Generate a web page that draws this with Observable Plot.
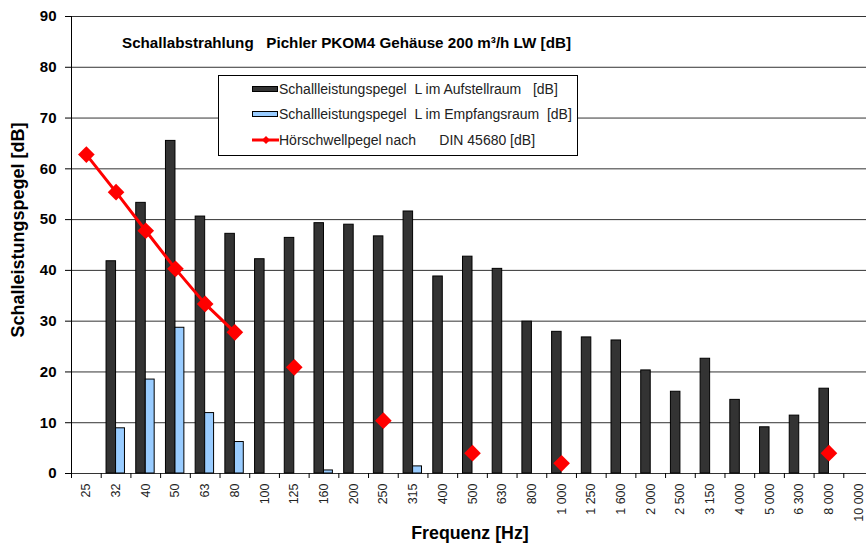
<!DOCTYPE html>
<html>
<head>
<meta charset="utf-8">
<script src="https://cdn.jsdelivr.net/npm/d3@7"></script>
<script src="https://cdn.jsdelivr.net/npm/@observablehq/plot@0.6"></script>
<style>
  html, body { margin: 0; padding: 0; background: #fff; overflow: hidden; }
  #wrap { position: relative; width: 866px; height: 544px; overflow: hidden; font-family: Arial, "Liberation Sans", sans-serif; }
  #chart { position: absolute; left: 0; top: 0; width: 880px; }
  #chart svg { max-width: none !important; }
  .title { position: absolute; left: 122px; top: 34px; font-size: 15.2px; font-weight: bold; white-space: pre; color: #000; }
  .legend { position: absolute; left: 218px; top: 75px; width: 360px; height: 81px; box-sizing: border-box; border: 1px solid #000; background: #fff; }
  .lrow { position: absolute; left: 33px; height: 16px; font-size: 14px; white-space: pre; color: #222; line-height: 16px; }
  .sw { position: absolute; left: 0; }
  .ltext { position: absolute; left: 27px; top: 0; }
  .ytitle { position: absolute; left: 18px; top: 230px; transform: translate(-50%, -50%) rotate(-90deg); font-size: 18px; font-weight: bold; white-space: pre; }
  .xtitle { position: absolute; left: 470px; top: 523px; transform: translateX(-50%); font-size: 17.8px; font-weight: bold; white-space: pre; line-height: 20px; }
</style>
</head>
<body>
<div id="wrap">
  <div id="chart"></div>
  <div class="title">Schallabstrahlung   Pichler PKOM4 Gehäuse 200 m³/h LW [dB]</div>
  <div class="legend" id="legend"></div>
  <div class="ytitle">Schalleistungspegel [dB]</div>
  <div class="xtitle">Frequenz [Hz]</div>
</div>
<script>
const categories = ["25","32","40","50","63","80","100","125","160","200","250","315","400","500","630","800","1 000","1 250","1 600","2 000","2 500","3 150","4 000","5 000","6 300","8 000","10 000"];
const aufstellraum = [null,41.8,53.3,65.5,50.6,47.2,42.2,46.4,49.3,49.0,46.7,51.6,38.8,42.7,40.3,29.9,27.9,26.8,26.2,20.3,16.1,22.6,14.5,9.1,11.4,16.7,null];
const empfangsraum = [null,8.9,18.5,28.7,11.9,6.2,null,null,0.6,null,null,1.4,null,null,null,null,null,null,null,null,null,null,null,null,null,null,null];
const hoerschwelle = [62.8,55.4,47.8,40.3,33.4,27.8,null,20.9,null,null,10.4,null,null,4.0,null,null,2.0,null,null,null,null,null,null,null,null,4.0,null];
const yTicks = [0,10,20,30,40,50,60,70,80,90];
const seriesNames = [
  "Schallleistungspegel  L im Aufstellraum   [dB]",
  "Schallleistungspegel  L im Empfangsraum  [dB]",
  "Hörschwellpegel nach      DIN 45680 [dB]"
];

const darkData = categories.map((c, i) => ({cat: c, v: aufstellraum[i]})).filter(d => d.v != null);
const blueData = categories.map((c, i) => ({cat: c, v: empfangsraum[i]})).filter(d => d.v != null);
const redData = categories.map((c, i) => ({cat: c, v: hoerschwelle[i]}));

const W = 873, ML = 71, MR = 0;
const bw = (W - ML - MR) / categories.length;

const chart = Plot.plot({
  width: W,
  height: 544,
  marginLeft: ML,
  marginRight: MR,
  marginTop: 16,
  marginBottom: 71,
  style: {fontFamily: "Arial, 'Liberation Sans', sans-serif", background: "#fff", color: "#000", maxWidth: "none"},
  x: {type: "band", domain: categories, padding: 0, round: false, label: null},
  y: {domain: [0, 90], label: null},
  marks: [
    Plot.ruleY(yTicks, {stroke: "#333", strokeWidth: 1}),
    Plot.barY(darkData, {x: "cat", y: "v", fill: "#333333", stroke: "#000", strokeWidth: 1, insetLeft: bw * 0.18, insetRight: bw * 0.5}),
    Plot.barY(blueData, {x: "cat", y: "v", fill: "#99ccff", stroke: "#000", strokeWidth: 1, insetLeft: bw * 0.5, insetRight: bw * 0.2}),
    Plot.line(redData, {x: "cat", y: "v", stroke: "#ff0000", strokeWidth: 3, defined: d => d.v != null}),
    Plot.dot(redData.filter(d => d.v != null), {x: "cat", y: "v", symbol: "diamond2", r: 7.5, fill: "#ff0000", stroke: "none"}),
    Plot.axisY({ticks: yTicks, tickSize: 6, tickPadding: 9, fontSize: 15, fontWeight: "bold", letterSpacing: 1, label: null}),
    Plot.axisX({ticks: categories, tickSize: 0, tickPadding: 10, tickRotate: -90, fontSize: 12.5, fill: "#222", label: null}),
    Plot.axisX({ticks: categories, tickSize: 5, tickFormat: () => "", dx: -bw / 2, label: null}),
    Plot.frame({anchor: "left", stroke: "#000"})
  ]
});
document.getElementById("chart").appendChild(chart);

// legend
const legend = document.getElementById("legend");
const rowsTop = [5, 30, 56];
const swatchStyles = [
  {bg: "#333333", border: "1px solid #000", h: 6},
  {bg: "#99ccff", border: "1px solid #000", h: 6},
  {bg: null}
];
seriesNames.forEach((name, i) => {
  const row = document.createElement("div");
  row.className = "lrow";
  row.style.top = rowsTop[i] + "px";
  row.style.width = "320px";
  if (swatchStyles[i].bg) {
    const sw = document.createElement("div");
    sw.className = "sw";
    sw.style.top = "5px";
    sw.style.width = "26px";
    sw.style.height = swatchStyles[i].h + "px";
    sw.style.boxSizing = "border-box";
    sw.style.background = swatchStyles[i].bg;
    sw.style.border = swatchStyles[i].border;
    row.appendChild(sw);
  } else {
    const svg = d3.create("svg").attr("width", 28).attr("height", 16).attr("class", "sw").style("top", "0px");
    svg.append("line").attr("x1", 0).attr("x2", 27).attr("y1", 8).attr("y2", 8).attr("stroke", "#ff0000").attr("stroke-width", 3);
    svg.append("path").attr("d", d3.symbol(d3.symbolDiamond2, 40)()).attr("transform", "translate(14,8)").attr("fill", "#ff0000");
    row.appendChild(svg.node());
  }
  const t = document.createElement("span");
  t.className = "ltext";
  t.textContent = name;
  row.appendChild(t);
  legend.appendChild(row);
});
</script>
</body>
</html>
